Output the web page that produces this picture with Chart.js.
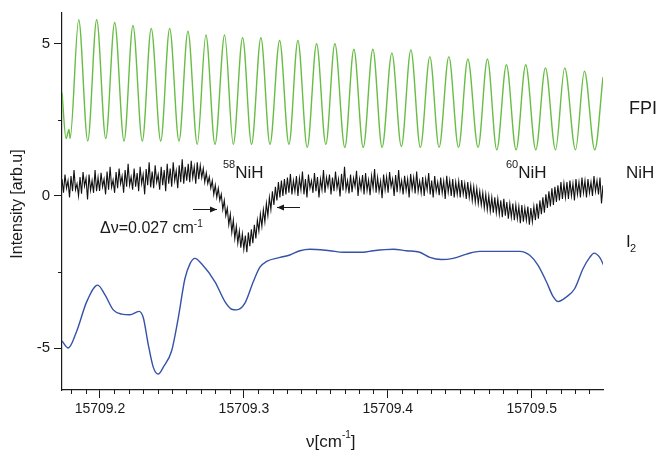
<!DOCTYPE html>
<html>
<head>
<meta charset="utf-8">
<script src="https://cdn.jsdelivr.net/npm/chart.js@4.4.1/dist/chart.umd.min.js"></script>
<style>
  body { margin: 0; background: #fff; }
  canvas { display: block; }
</style>
</head>
<body>
<canvas id="spectrum" width="659" height="456"></canvas>
<script>
// wavenumber axis ticks and y ticks
const xTicks = [15709.2, 15709.3, 15709.4, 15709.5];
const yTicks = [-5, 0, 5];

// FPI fringes, read as alternating minima / maxima
const fpiX = [15709.1736, 15709.1764, 15709.1785, 15709.1792, 15709.1852, 15709.1915, 15709.1977, 15709.2040,
  15709.2102, 15709.2167, 15709.2229, 15709.2294, 15709.2356, 15709.2422, 15709.2484, 15709.2549, 15709.2611,
  15709.2676, 15709.2736, 15709.2799, 15709.2866, 15709.2926, 15709.2991, 15709.3053, 15709.3118, 15709.3181,
  15709.3248, 15709.3313, 15709.3375, 15709.3440, 15709.3505, 15709.3569, 15709.3632, 15709.3701, 15709.3764,
  15709.3829, 15709.3896, 15709.3960, 15709.4028, 15709.4094, 15709.4160, 15709.4226, 15709.4292, 15709.4356,
  15709.4424, 15709.4491, 15709.4556, 15709.4627, 15709.4692, 15709.4757, 15709.4824, 15709.4891, 15709.4958,
  15709.5028, 15709.5095, 15709.5165, 15709.5229, 15709.5304, 15709.5366, 15709.5438, 15709.5495];
const fpiY = [3.39, 1.88, 2.18, 1.88, 5.78, 1.80, 5.78, 1.88,
  5.69, 1.80, 5.59, 1.80, 5.49, 1.80, 5.49, 1.80, 5.40,
  1.69, 5.28, 1.69, 5.28, 1.69, 5.19, 1.69, 5.19, 1.69,
  5.10, 1.69, 5.10, 1.59, 4.99, 1.69, 4.99, 1.59, 4.81,
  1.59, 4.81, 1.59, 4.69, 1.62, 4.79, 1.59, 4.57, 1.59,
  4.57, 1.59, 4.49, 1.59, 4.49, 1.51, 4.30, 1.51, 4.30,
  1.51, 4.20, 1.51, 4.20, 1.51, 4.09, 1.51, 3.90];

// NiH signal, sampled evenly from nihStart to nihEnd
const nihStart = 15709.1736;
const nihEnd = 15709.5495;
const nihY = [
  0.55, 0.10, 0.70, 0.25, 0.50, -0.05, 0.65, 0.15, 0.85, 0.20, 0.40, 0.00,
  0.62, 0.07, 0.78, 0.32, 0.58, -0.12, 0.70, 0.18, 0.50, 0.10, 0.85, 0.15,
  0.60, 0.16, 0.76, 0.30, 0.55, 0.05, 0.80, 0.20, 0.95, 0.28, 0.52, 0.10,
  0.78, 0.25, 0.90, 0.40, 0.65, 0.10, 0.85, 0.30, 1.05, 0.35, 0.62, 0.20,
  0.90, 0.30, 0.75, 0.15, 0.95, 0.40, 0.70, 0.05, 0.88, 0.35, 1.10, 0.28,
  0.80, 0.25, 1.00, 0.45, 0.70, 0.20, 0.95, 0.35, 0.85, 0.15, 1.05, 0.40,
  0.90, 0.30, 1.10, 0.50, 0.82, 0.25, 1.00, 0.45, 1.20, 0.40, 0.95, 0.50,
  1.05, 0.45, 1.15, 0.60, 0.95, 0.40, 1.10, 0.55, 1.00, 0.60, 0.90, 0.45,
  0.75, 0.40, 0.62, 0.25, 0.50, 0.05, 0.35, -0.05, 0.25, -0.15, 0.05, -0.45,
  -0.15, -0.65, -0.40, -0.95, -0.60, -1.20, -0.80, -1.40, -1.00, -1.55, -1.15, -1.70,
  -1.25, -1.75, -1.30, -1.85, -1.20, -1.65, -1.10, -1.55, -0.95, -1.40, -0.80, -1.15,
  -0.60, -1.00, -0.45, -0.85, -0.25, -0.65, -0.05, -0.45, 0.15, -0.30, 0.30, -0.15,
  0.45, -0.05, 0.50, 0.00, 0.55, 0.05, 0.60, 0.10, 0.72, 0.05, 0.50, 0.15,
  0.65, 0.00, 0.58, 0.20, 0.80, 0.05, 0.55, -0.05, 0.70, 0.25, 0.50, 0.10,
  0.75, 0.15, 0.62, -0.05, 0.55, 0.20, 0.85, 0.10, 0.60, 0.30, 0.70, 0.05,
  0.60, 0.15, 0.80, 0.25, 0.55, -0.02, 0.72, 0.18, 0.95, 0.20, 0.50, 0.08,
  0.70, 0.12, 0.58, 0.30, 0.82, 0.00, 0.55, 0.22, 0.68, 0.05, 0.75, 0.18,
  0.52, 0.02, 0.65, 0.25, 0.88, 0.10, 0.60, 0.15, 0.48, -0.08, 0.70, 0.20,
  0.62, 0.10, 0.78, 0.30, 0.55, 0.00, 0.68, 0.12, 0.85, 0.20, 0.50, 0.05,
  0.66, 0.18, 0.55, -0.05, 0.72, 0.22, 0.60, 0.08, 0.80, 0.15, 0.48, 0.10,
  0.62, 0.00, 0.55, 0.20, 0.75, 0.05, 0.50, -0.05, 0.65, 0.15, 0.45, 0.02,
  0.60, 0.10, 0.48, -0.10, 0.66, 0.12, 0.50, 0.00, 0.55, -0.05, 0.45, 0.05,
  0.48, -0.05, 0.52, 0.05, 0.40, -0.10, 0.45, -0.05, 0.35, -0.15, 0.30, -0.20,
  0.25, -0.25, 0.15, -0.30, 0.10, -0.40, 0.05, -0.45, 0.00, -0.50, -0.05, -0.55,
  -0.05, -0.55, -0.10, -0.60, -0.15, -0.70, -0.10, -0.65, -0.20, -0.75, -0.25, -0.70,
  -0.25, -0.80, -0.30, -0.75, -0.35, -0.90, -0.30, -0.85, -0.40, -0.80, -0.35, -0.95,
  -0.40, -0.85, -0.35, -0.80, -0.25, -0.75, -0.15, -0.60, -0.05, -0.55, 0.05, -0.40,
  0.15, -0.35, 0.25, -0.30, 0.30, -0.20, 0.35, -0.15, 0.45, -0.10, 0.40, -0.05,
  0.45, -0.10, 0.50, 0.00, 0.40, -0.15, 0.55, 0.05, 0.45, -0.05, 0.60, 0.10,
  0.50, -0.05, 0.55, 0.10, 0.45, 0.00, 0.65, 0.15, 0.50, 0.05, 0.60, -0.25, 0.35
];

// I2 reference absorption
const i2X = [15709.1736, 15709.1780, 15709.1838, 15709.1908, 15709.1984, 15709.2035, 15709.2092, 15709.2151,
  15709.2208, 15709.2271, 15709.2301, 15709.2335, 15709.2370, 15709.2405, 15709.2440, 15709.2498, 15709.2544,
  15709.2590, 15709.2625, 15709.2660, 15709.2706, 15709.2799, 15709.2868, 15709.2915, 15709.2949, 15709.3007,
  15709.3065, 15709.3111, 15709.3158, 15709.3250, 15709.3319, 15709.3389, 15709.3458, 15709.3597, 15709.3690,
  15709.3828, 15709.3898, 15709.4037, 15709.4130, 15709.4222, 15709.4292, 15709.4373, 15709.4453, 15709.4547,
  15709.4639, 15709.4917, 15709.4986, 15709.5044, 15709.5102, 15709.5149, 15709.5183, 15709.5242, 15709.5299,
  15709.5356, 15709.5403, 15709.5433, 15709.5472, 15709.5500];
const i2Y = [-4.76, -4.99, -4.44, -3.47, -2.93, -3.25, -3.74, -3.88,
  -3.90, -3.79, -4.00, -4.87, -5.62, -5.85, -5.62, -5.08, -4.00,
  -2.72, -2.23, -2.05, -2.23, -2.82, -3.47, -3.72, -3.74, -3.52,
  -2.82, -2.34, -2.15, -2.02, -1.94, -1.80, -1.75, -1.80, -1.85,
  -1.85, -1.80, -1.75, -1.80, -1.85, -2.02, -2.09, -2.05, -1.91,
  -1.82, -1.82, -1.95, -2.28, -2.82, -3.31, -3.47, -3.31, -3.04,
  -2.39, -2.02, -1.88, -2.02, -2.28];

const FONT = '"Liberation Sans", Arial, Helvetica, sans-serif';
const INK = '#1a1a1a';

const nihStep = (nihEnd - nihStart) / (nihY.length - 1);
const nihPts = nihY.map((v, i) => ({ x: nihStart + i * nihStep, y: v }));
const fpiPts = fpiX.map((x, i) => ({ x: x, y: fpiY[i] }));
const i2Pts = i2X.map((x, i) => ({ x: x, y: i2Y[i] }));

// minor ticks, labels and arrows that the library has no option for
const extras = {
  id: 'extras',
  afterDraw(chart) {
    const c = chart.ctx;
    const xs = chart.scales.x, ys = chart.scales.y;
    c.save();
    c.strokeStyle = INK;
    c.lineWidth = 1;
    c.beginPath();
    for (let k = 18; k <= 54; k++) {
      if (k % 10 === 0) continue;
      const px = Math.round(xs.getPixelForValue(15709 + k / 100)) + 0.5;
      c.moveTo(px, xs.top);
      c.lineTo(px, xs.top + 4);
    }
    [-2.5, 2.5].forEach(v => {
      const py = Math.round(ys.getPixelForValue(v)) + 0.5;
      c.moveTo(ys.right, py);
      c.lineTo(ys.right - 4, py);
    });
    c.stroke();

    c.fillStyle = INK;
    c.textBaseline = 'alphabetic';
    c.textAlign = 'left';

    // series names on the right
    c.font = '18px ' + FONT;
    c.fillText('FPI', 629, 114);
    c.font = '17px ' + FONT;
    c.fillText('NiH', 626, 178);
    c.fillText('I', 626, 247);
    c.font = '11px ' + FONT;
    c.fillText('2', 630, 252);

    // isotope labels
    const iso = (sup, x, y) => {
      c.font = '11px ' + FONT;
      c.fillText(sup, x, y - 10);
      const w = c.measureText(sup).width;
      c.font = '17px ' + FONT;
      c.fillText('NiH', x + w, y);
    };
    iso('58', 223, 178);
    iso('60', 506, 178);

    // line width note
    c.font = '16px ' + FONT;
    const note = 'Δν=0.027 cm';
    c.fillText(note, 100, 233);
    const nw = c.measureText(note).width;
    c.font = '10px ' + FONT;
    c.fillText('-1', 100 + nw, 227);

    // arrows
    const arrow = (x1, x2, y) => {
      c.beginPath();
      c.moveTo(x1, y + 0.5);
      c.lineTo(x2, y + 0.5);
      c.stroke();
      const d = x2 > x1 ? -1 : 1;
      c.beginPath();
      c.moveTo(x2, y + 0.5);
      c.lineTo(x2 + d * 7, y - 2.5);
      c.lineTo(x2 + d * 7, y + 3.5);
      c.closePath();
      c.fill();
    };
    arrow(193, 217, 209);
    arrow(300, 277, 207);

    // axis titles
    c.font = '17px ' + FONT;
    const t1 = 'ν[cm';
    c.fillText(t1, 306, 447);
    const w1 = c.measureText(t1).width;
    c.font = '10px ' + FONT;
    c.fillText('-1', 306 + w1, 438);
    const w2 = c.measureText('-1').width;
    c.font = '17px ' + FONT;
    c.fillText(']', 306 + w1 + w2, 447);

    c.translate(22, 204);
    c.rotate(-Math.PI / 2);
    c.textAlign = 'center';
    c.font = '16px ' + FONT;
    c.fillText('Intensity [arb.u]', 0, 0);
    c.restore();
  }
};

const axisGrid = { drawOnChartArea: false, drawTicks: true, tickLength: 8, color: INK, tickColor: INK, tickWidth: 1 };

new Chart(document.getElementById('spectrum'), {
  type: 'line',
  data: {
    datasets: [
      { label: 'FPI', data: fpiPts, borderColor: '#68bd45', borderWidth: 1.4,
        cubicInterpolationMode: 'monotone', pointRadius: 0 },
      { label: 'NiH', data: nihPts, borderColor: '#111111', borderWidth: 1.1,
        tension: 0, pointRadius: 0 },
      { label: 'I2', data: i2Pts, borderColor: '#3452a6', borderWidth: 1.4,
        cubicInterpolationMode: 'monotone', pointRadius: 0 }
    ]
  },
  options: {
    responsive: false,
    animation: false,
    events: [],
    layout: { padding: { top: 6, right: 56, left: 0, bottom: 0 } },
    plugins: { legend: { display: false }, tooltip: { enabled: false }, title: { display: false } },
    scales: {
      x: {
        type: 'linear', position: 'bottom',
        min: 15709.1736, max: 15709.5495,
        grid: axisGrid,
        border: { display: true, color: INK, width: 1.2 },
        ticks: { color: INK, font: { family: FONT, size: 14 }, padding: 3, maxRotation: 0,
                 includeBounds: false, callback: v => v.toFixed(1) },
        afterBuildTicks: s => { s.ticks = xTicks.map(v => ({ value: v })); },
        afterFit: s => { s.height = 66; }
      },
      y: {
        type: 'linear', min: -6.37, max: 6.0,
        grid: axisGrid,
        border: { display: true, color: INK, width: 1.2 },
        ticks: { color: INK, font: { family: FONT, size: 15 }, padding: 4,
                 includeBounds: false, callback: v => String(v) },
        afterBuildTicks: s => { s.ticks = yTicks.map(v => ({ value: v })); },
        afterFit: s => { s.width = 62; }
      }
    }
  },
  plugins: [extras]
});
</script>
</body>
</html>
